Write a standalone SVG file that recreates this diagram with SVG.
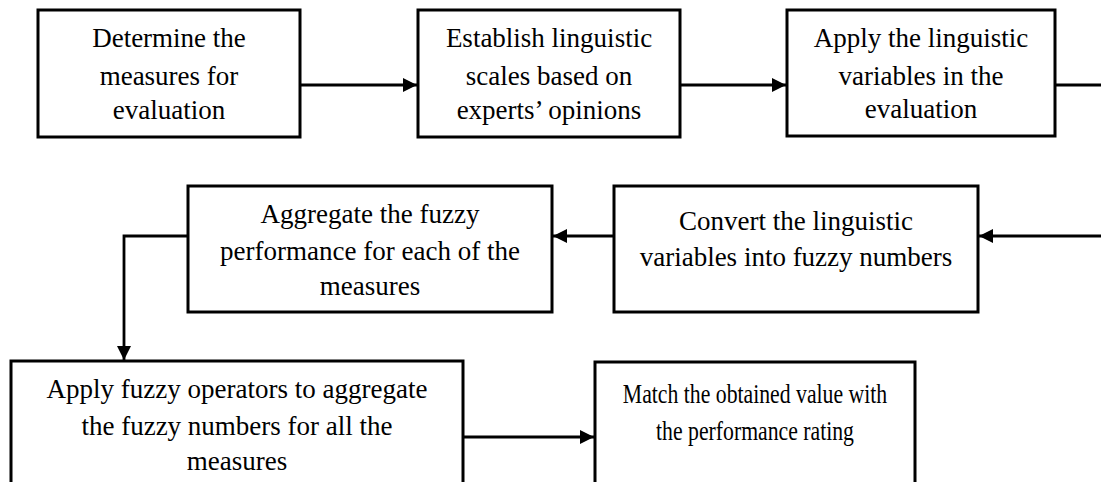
<svg xmlns="http://www.w3.org/2000/svg" width="1101" height="482" viewBox="0 0 1101 482">
<style>
.box{fill:#fff;stroke:#000;stroke-width:3}
.t{font-family:"Liberation Serif","Times New Roman",serif;font-size:27px;fill:#000;text-anchor:middle}
.c{fill:none;stroke:#000;stroke-width:2.8}
</style>
<defs>
<marker id="ah" markerUnits="userSpaceOnUse" markerWidth="16" markerHeight="16" refX="14" refY="7" orient="auto">
<path d="M0,0 L14,7 L0,14 Z" fill="#000"/>
</marker>
</defs>
<rect width="1101" height="482" fill="#fff"/>
<g id="connectors">
<line class="c" x1="300" y1="85" x2="417" y2="85" marker-end="url(#ah)"/>
<line class="c" x1="680" y1="85" x2="786" y2="85" marker-end="url(#ah)"/>
<line class="c" x1="1055" y1="85" x2="1101" y2="85" stroke-width="3.5"/>
<line class="c" x1="1101" y1="236" x2="979" y2="236" marker-end="url(#ah)"/>
<line class="c" x1="614" y1="236" x2="553" y2="236" marker-end="url(#ah)"/>
<polyline class="c" points="188,236 124,236 124,360" marker-end="url(#ah)"/>
<line class="c" x1="463" y1="437" x2="594" y2="437" marker-end="url(#ah)"/>
</g>
<g id="n1">
<rect class="box" x="38" y="10" width="262" height="127"/>
<text class="t" x="169" y="47">Determine the</text>
<text class="t" x="169" y="85">measures for</text>
<text class="t" x="169" y="119">evaluation</text>
</g>
<g id="n2">
<rect class="box" x="418" y="10" width="262" height="127"/>
<text class="t" x="549" y="47">Establish linguistic</text>
<text class="t" x="549" y="85">scales based on</text>
<text class="t" x="549" y="119">experts’ opinions</text>
</g>
<g id="n3">
<rect class="box" x="787" y="10" width="268" height="126"/>
<text class="t" x="921" y="47">Apply the linguistic</text>
<text class="t" x="921" y="85">variables in the</text>
<text class="t" x="921" y="118">evaluation</text>
</g>
<g id="n4">
<rect class="box" x="188" y="186" width="364" height="126"/>
<text class="t" x="370" y="223">Aggregate the fuzzy</text>
<text class="t" x="370" y="260">performance for each of the</text>
<text class="t" x="370" y="295">measures</text>
</g>
<g id="n5">
<rect class="box" x="614" y="186" width="364" height="126"/>
<text class="t" x="796" y="230">Convert the linguistic</text>
<text class="t" x="796" y="266">variables into fuzzy numbers</text>
</g>
<g id="n6">
<rect class="box" x="11" y="361" width="452" height="140"/>
<text class="t" x="237" y="398">Apply fuzzy operators to aggregate</text>
<text class="t" x="237" y="435">the fuzzy numbers for all the</text>
<text class="t" x="237" y="470">measures</text>
</g>
<g id="n7">
<rect class="box" x="595" y="362" width="320" height="140"/>
<text class="t" transform="translate(755,403) scale(0.805,1)">Match the obtained value with</text>
<text class="t" transform="translate(755,440) scale(0.805,1)">the performance rating</text>
</g>
</svg>
